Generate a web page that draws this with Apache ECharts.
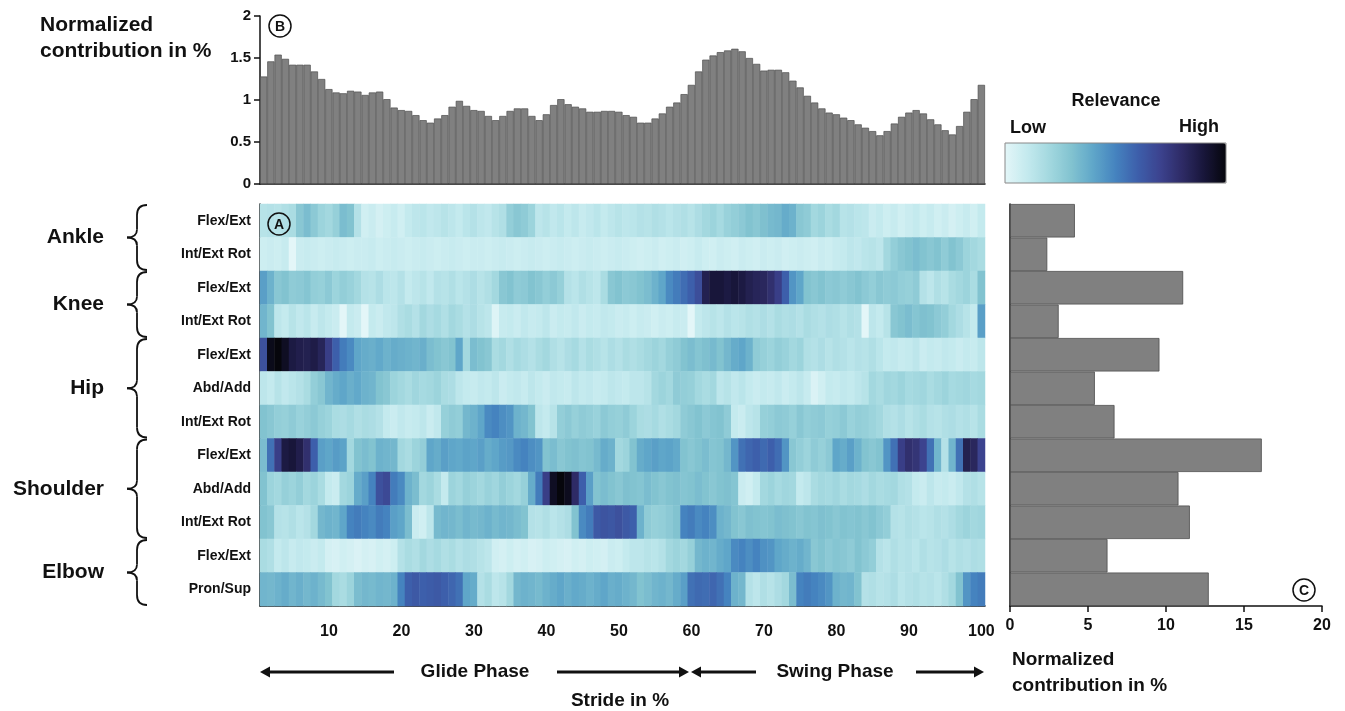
<!DOCTYPE html>
<html><head><meta charset="utf-8">
<script src="https://cdn.jsdelivr.net/npm/echarts@6/dist/echarts.min.js"></script>
<style>html,body{margin:0;padding:0;background:#fff}#c{width:1345px;height:711px}</style>
</head><body><div id="c"></div>
<script>
// ---------------- DATA ----------------
const strideCategories = Array.from({length: 100}, (_, i) => String(i + 1));
const motionLabels = ['Flex/Ext','Int/Ext Rot','Flex/Ext','Int/Ext Rot','Flex/Ext','Abd/Add','Int/Ext Rot','Flex/Ext','Abd/Add','Int/Ext Rot','Flex/Ext','Pron/Sup'];
const jointGroups = ['Ankle','Knee','Hip','Shoulder','Elbow'];
const jointRowCounts = [2, 2, 3, 3, 2];

// Top panel (B): normalized contribution per stride %
const strideContribution = [
 1.28,1.46,1.54,1.49,1.42,1.42,1.42,1.34,1.25,1.13,
 1.09,1.08,1.11,1.10,1.06,1.09,1.10,1.01,0.91,0.88,
 0.87,0.82,0.76,0.73,0.78,0.82,0.92,0.99,0.93,0.88,
 0.87,0.81,0.76,0.81,0.87,0.90,0.90,0.81,0.76,0.83,
 0.94,1.01,0.95,0.92,0.90,0.86,0.86,0.87,0.87,0.86,
 0.82,0.80,0.73,0.73,0.78,0.84,0.92,0.97,1.07,1.18,
 1.34,1.48,1.53,1.57,1.59,1.61,1.58,1.50,1.43,1.35,
 1.36,1.36,1.33,1.23,1.15,1.05,0.97,0.90,0.85,0.83,
 0.79,0.76,0.71,0.67,0.63,0.58,0.63,0.72,0.80,0.85,
 0.88,0.84,0.77,0.71,0.64,0.59,0.69,0.86,1.01,1.18
];

// Right panel (C): normalized contribution per joint motion
const motionContribution = [4.16, 2.39, 11.1, 3.12, 9.58, 5.44, 6.70, 16.14, 10.8, 11.53, 6.25, 12.74];

// Heatmap (A): relevance per row (0 = low, 1 = high)
const ankleFlexExt = [
 0.14,0.15,0.14,0.16,0.18,0.28,0.32,0.27,0.22,0.20,0.24,0.32,0.30,0.15,
 0.06,0.08,0.05,0.07,0.09,0.06,0.10,
 0.12,0.13,0.11,0.12,0.14,0.12,0.10,0.13,0.15,0.12,0.11,0.14,0.16,
 0.25,0.28,0.26,0.22,0.12,0.14,0.11,0.13,
 0.10,0.12,0.09,0.11,0.13,0.10,0.12,0.14,0.12,0.13,
 0.15,0.14,0.16,0.15,0.13,0.15,0.16,0.14,0.17,
 0.20,0.22,0.19,0.23,0.25,0.27,0.30,0.28,0.31,0.33,0.34,0.38,0.36,0.28,0.26,
 0.20,0.22,0.18,0.20,0.14,0.15,0.13,0.12,
 0.08,0.10,0.07,0.09,0.06,0.08,0.10,0.07,0.09,0.06,0.08,0.05,0.07,0.09,0.06,0.10
];
const ankleRot = [
 0.07,0.08,0.07,0.09,0.00,
 0.08,0.09,0.08,0.07,0.08,0.09,0.08,0.07,0.08,0.08,0.09,0.07,0.08,0.09,0.08,0.07,0.08,0.09,0.08,0.07,
 0.08,0.09,0.08,0.07,0.08,0.08,0.07,0.08,0.09,0.08,0.07,0.08,0.09,0.08,0.07,0.08,0.09,0.08,0.07,0.08,
 0.09,0.08,0.07,0.08,0.09,0.08,0.07,
 0.06,0.07,0.08,0.06,0.07,0.08,0.06,0.07,0.09,0.07,0.06,0.08,0.07,0.06,0.08,0.07,0.06,0.08,0.07,0.08,
 0.06,0.07,0.08,0.07,0.06,0.08,0.07,0.09,0.10,0.12,0.11,0.13,0.14,0.12,
 0.20,0.25,0.28,0.30,0.32,0.30,0.28,0.30,0.26,0.30,0.27,0.22,0.20,0.18
];
const kneeFlexExt = [
 0.42,0.36,0.28,0.30,0.26,0.27,0.29,0.25,0.24,0.27,0.22,0.25,0.23,0.20,
 0.15,0.14,0.17,0.13,0.12,0.15,0.10,0.12,0.14,0.11,
 0.15,0.14,0.16,0.13,0.15,0.17,0.14,0.16,0.20,
 0.28,0.30,0.26,0.27,0.30,0.28,0.25,0.27,0.24,
 0.15,0.13,0.16,0.14,0.12,0.18,
 0.28,0.30,0.27,0.28,0.30,0.32,0.36,0.40,
 0.48,0.52,0.56,0.60,0.66,
 0.85,0.90,0.90,0.88,0.90,0.88,0.85,0.83,0.82,0.78,
 0.72,0.60,0.45,0.40,
 0.30,0.28,0.30,0.27,0.28,0.26,0.28,0.30,0.27,0.25,0.28,0.26,0.27,0.25,0.24,0.26,
 0.15,0.12,0.16,0.14,0.18,0.20,0.22,0.18,0.30
];
const kneeRot = [
 0.35,0.30,0.12,0.10,0.14,0.11,0.13,0.09,0.12,0.10,0.08,0.00,0.10,0.08,0.00,
 0.10,0.08,0.11,0.12,
 0.16,0.18,0.15,0.20,0.17,0.19,0.16,0.20,0.18,0.15,0.17,0.14,0.12,0.02,
 0.09,0.10,0.08,0.11,0.09,0.10,0.12,0.08,0.10,0.09,0.11,0.08,0.10,0.09,0.11,0.10,0.08,0.09,0.07,0.09,
 0.08,0.06,0.08,0.07,0.09,0.08,0.00,
 0.10,0.12,0.14,0.12,0.15,0.13,0.14,0.16,0.15,
 0.17,0.15,0.18,0.16,0.17,0.15,0.18,0.16,0.15,0.17,0.16,0.14,0.16,0.15,0.00,
 0.12,0.10,0.14,0.28,0.30,0.32,0.29,0.31,0.30,0.27,0.25,0.20,0.17,0.14,0.10,0.42
];
const hipFlexExt = [
 0.65,0.97,1.00,0.95,0.88,0.86,0.85,0.87,0.83,0.72,0.60,0.52,0.48,
 0.40,0.38,0.37,0.39,0.36,0.38,0.37,0.36,0.35,0.37,
 0.32,0.30,0.28,0.30,0.40,0.20,0.32,0.30,0.28,
 0.18,0.20,0.16,0.19,0.17,0.15,0.18,0.20,0.16,0.14,0.17,0.19,0.15,0.18,0.16,0.14,0.17,0.15,0.18,0.16,
 0.18,0.20,0.22,0.20,0.24,0.26,0.30,0.32,0.29,0.31,0.33,0.30,0.34,0.38,0.40,0.36,
 0.26,0.24,0.22,0.25,0.23,0.20,0.22,
 0.16,0.15,0.17,0.14,0.16,0.15,0.13,0.15,0.14,0.16,0.13,
 0.10,0.11,0.09,0.10,0.12,0.08,0.10,0.09,0.11,0.10,0.08,0.10,0.09,0.12
];
const hipAbdAdd = [
 0.12,0.10,0.14,0.11,0.13,0.15,0.18,0.25,0.28,
 0.35,0.38,0.40,0.37,0.39,0.36,0.35,0.30,0.28,
 0.22,0.20,0.18,0.21,0.19,0.20,0.22,0.18,0.17,
 0.12,0.10,0.09,0.11,0.10,0.12,0.08,0.10,0.11,0.09,0.12,0.10,0.08,0.11,0.10,0.09,0.12,0.10,0.11,0.09,0.10,0.12,0.11,0.10,0.12,
 0.12,0.14,0.20,0.22,0.20,0.26,0.25,0.24,0.20,0.18,0.20,0.12,0.14,0.11,0.13,
 0.10,0.08,0.10,0.09,0.11,0.08,0.10,0.12,0.09,0.03,0.06,0.10,0.09,0.11,0.10,0.12,0.14,
 0.20,0.18,0.21,0.20,0.22,0.19,0.20,0.21,0.18,0.20,0.22,0.19,0.20,0.21,0.19,0.20
];
const hipRot = [
 0.30,0.28,0.25,0.24,0.26,0.23,0.25,0.27,0.24,0.22,
 0.18,0.17,0.19,0.16,0.18,0.17,0.15,
 0.10,0.08,0.11,0.09,0.10,0.12,0.08,0.11,
 0.24,0.26,0.25,0.34,0.36,0.40,0.48,0.50,0.47,0.45,0.36,0.34,0.30,0.12,0.10,0.14,
 0.25,0.27,0.24,0.26,0.25,0.23,0.27,0.25,0.24,0.26,0.22,
 0.18,0.17,0.19,0.16,0.18,0.20,0.26,0.28,0.30,0.27,0.29,0.30,0.26,
 0.10,0.08,0.12,0.14,
 0.24,0.25,0.27,0.26,0.24,0.28,0.25,0.26,0.27,0.24,0.25,0.27,0.23,0.25,0.24,0.22,0.20,
 0.16,0.15,0.17,0.14,0.16,0.18,0.15,0.14,0.16,0.17,0.15,0.16,0.14,0.18
];
const shoulderFlexExt = [
 0.32,0.55,0.72,0.88,0.90,0.86,0.78,0.60,0.42,0.40,0.43,0.41,0.20,
 0.30,0.32,0.30,0.36,0.35,0.34,0.20,0.18,0.22,0.25,
 0.40,0.38,0.42,0.40,0.39,0.41,0.40,0.42,0.38,0.40,0.43,0.44,
 0.48,0.50,0.47,0.45,0.30,0.32,0.28,0.30,0.31,0.29,0.30,0.33,0.38,0.36,0.20,0.22,0.30,
 0.38,0.40,0.42,0.40,0.41,0.39,0.30,0.28,0.30,0.32,0.29,0.30,0.34,
 0.45,0.55,0.58,0.60,0.57,0.60,0.56,0.45,
 0.28,0.25,0.22,0.26,0.24,0.27,0.40,0.38,0.42,0.36,0.30,0.28,0.30,
 0.45,0.55,0.72,0.78,0.76,0.70,0.55,0.35,0.15,0.35,0.55,0.85,0.82,0.70
];
const shoulderAbdAdd = [
 0.30,0.22,0.20,0.24,0.22,0.25,0.20,0.22,0.18,0.10,0.08,0.20,0.22,0.38,0.42,0.50,0.65,0.68,0.52,0.48,
 0.36,0.32,0.20,0.22,0.18,0.10,
 0.22,0.20,0.24,0.22,0.20,0.23,0.21,0.25,0.22,0.20,0.24,
 0.38,0.52,0.72,0.95,1.00,0.96,0.80,0.60,0.42,
 0.30,0.32,0.30,0.28,0.31,0.30,0.29,0.32,0.30,0.28,0.30,0.31,0.29,0.30,0.32,0.30,0.28,0.30,0.31,0.29,
 0.08,0.06,0.10,0.20,0.22,0.19,0.21,0.20,0.10,0.12,
 0.18,0.20,0.19,0.21,0.18,0.20,0.19,0.17,0.20,0.18,0.19,0.20,0.16,0.15,
 0.10,0.08,0.12,0.09,0.10,0.08,0.11,0.15,0.16,0.14
];
const shoulderRot = [
 0.30,0.28,0.15,0.14,0.16,0.13,0.15,0.20,0.34,0.36,0.35,0.40,
 0.50,0.52,0.50,0.48,0.52,0.50,0.42,0.40,0.32,0.08,0.06,0.12,
 0.33,0.35,0.34,0.32,0.35,0.33,0.34,0.36,0.33,0.35,0.34,0.32,0.30,
 0.15,0.14,0.16,0.13,0.15,0.17,0.30,0.48,0.52,
 0.62,0.64,0.63,0.65,0.62,0.60,0.36,
 0.26,0.24,0.25,0.27,0.30,0.50,0.52,0.48,0.50,0.47,0.36,0.34,
 0.30,0.28,0.31,0.30,0.29,0.30,0.32,0.31,0.30,0.28,0.30,0.29,0.31,0.30,0.28,0.30,0.29,0.30,0.28,0.30,0.27,0.25,
 0.15,0.14,0.16,0.15,0.13,0.14,0.16,0.15,0.17,0.20,0.22,0.20,0.21
];
const elbowFlexExt = [
 0.18,0.16,0.10,0.12,0.09,0.11,0.10,0.08,0.10,
 0.05,0.04,0.06,0.05,0.03,0.05,0.04,0.06,0.05,0.07,
 0.15,0.18,0.16,0.20,0.17,0.19,0.16,0.18,0.15,0.17,0.16,0.14,0.12,
 0.06,0.05,0.07,0.05,0.06,0.04,0.05,0.07,0.06,0.05,0.04,0.06,0.05,0.07,0.06,0.05,0.08,0.07,0.10,0.12,
 0.12,0.14,0.13,0.15,0.20,0.22,0.20,0.24,0.34,0.36,0.35,0.38,0.40,
 0.48,0.50,0.47,0.50,0.46,0.45,0.40,0.38,0.36,0.38,0.35,
 0.28,0.30,0.27,0.29,0.28,0.26,0.30,0.27,0.25,
 0.15,0.13,0.16,0.14,0.15,0.13,0.16,0.14,0.15,0.17,0.14,0.16,0.15,0.17,0.16
];
const elbowPronSup = [
 0.35,0.34,0.36,0.38,0.35,0.37,0.34,0.36,0.33,0.30,0.20,0.18,0.22,
 0.32,0.34,0.33,0.35,0.34,0.36,0.50,
 0.60,0.62,0.60,0.61,0.62,0.60,0.58,0.55,0.40,0.38,
 0.15,0.18,0.12,0.14,0.20,0.34,0.36,0.35,0.33,0.36,
 0.38,0.40,0.37,0.39,0.38,0.36,0.38,0.40,0.37,0.38,0.36,0.34,
 0.30,0.32,0.35,0.36,0.34,0.38,0.42,0.55,0.57,0.56,0.58,0.55,0.50,0.36,0.34,
 0.15,0.12,0.16,0.14,0.17,0.20,0.32,0.50,0.52,0.50,0.48,0.45,0.36,0.34,0.35,0.30,
 0.15,0.16,0.14,0.15,0.17,0.13,0.15,0.16,0.14,0.15,0.13,0.16,0.20,
 0.30,0.45,0.50,0.52
];
const heatmapRows = [ankleFlexExt, ankleRot, kneeFlexExt, kneeRot, hipFlexExt, hipAbdAdd, hipRot,
  shoulderFlexExt, shoulderAbdAdd, shoulderRot, elbowFlexExt, elbowPronSup];
const relevanceColors = ['#e3f6f8','#c4eaee','#a3d8df','#82c3d0','#5fa6c9','#4583bf','#3d5fab','#3c438f','#2e2b66','#18163a','#06060c'];

// ---------------- CHART ----------------
const FONT = '"Liberation Sans", Arial, sans-serif';
const NARROW = '"Liberation Sans Narrow", "Liberation Sans", Arial, sans-serif';
const heatData = [];
heatmapRows.forEach((row, r) => row.forEach((v, c) => heatData.push([c, r, v])));

const G = {
  top:   {left: 260, top: 16, width: 725, height: 168},
  heat:  {left: 260, top: 204, width: 725, height: 402},
  right: {left: 1010, top: 204, width: 312, height: 402}
};
const rowH = G.heat.height / 12;
const axisBlack = {lineStyle: {color: '#111', width: 1.5}};
const braceStyle = {fill: 'none', stroke: '#111', lineWidth: 1.8};

// braces + group labels
const braceGraphics = [];
let startRow = 0;
jointGroups.forEach((name, gi) => {
  const y1 = G.heat.top + startRow * rowH + 1;
  const y2 = G.heat.top + (startRow + jointRowCounts[gi]) * rowH - 1;
  const ym = (y1 + y2) / 2;
  const xo = 147, xs = 137, xt = 127;
  braceGraphics.push(
    {type: 'bezierCurve', shape: {x1: xo, y1: y1, cpx1: xs, cpy1: y1, x2: xs, y2: y1 + 10}, style: braceStyle},
    {type: 'line', shape: {x1: xs, y1: y1 + 10, x2: xs, y2: ym - 8}, style: braceStyle},
    {type: 'bezierCurve', shape: {x1: xs, y1: ym - 8, cpx1: xs, cpy1: ym, x2: xt, y2: ym}, style: braceStyle},
    {type: 'bezierCurve', shape: {x1: xt, y1: ym, cpx1: xs, cpy1: ym, x2: xs, y2: ym + 8}, style: braceStyle},
    {type: 'line', shape: {x1: xs, y1: ym + 8, x2: xs, y2: y2 - 10}, style: braceStyle},
    {type: 'bezierCurve', shape: {x1: xs, y1: y2 - 10, cpx1: xs, cpy1: y2, x2: xo, y2: y2}, style: braceStyle},
    {type: 'text', x: 104, y: ym,
      style: {text: name, fontSize: 21, fontWeight: 'bold', fontFamily: FONT, fill: '#111', align: 'right', verticalAlign: 'middle'}}
  );
  startRow += jointRowCounts[gi];
});

function circleLabel(cx, cy, letter, fill) {
  return [
    {type: 'circle', shape: {cx, cy, r: 11}, style: {fill: fill, stroke: '#111', lineWidth: 1.5}, z: 100},
    {type: 'text', x: cx, y: cy + 1, z: 101, style: {text: letter, fontSize: 14, fontWeight: 'bold', fontFamily: FONT, fill: '#111', align: 'center', verticalAlign: 'middle'}}
  ];
}
function arrow(x1, x2, y) {
  const dir = Math.sign(x2 - x1);
  return [
    {type: 'line', shape: {x1, y1: y, x2: x2 - dir * 8, y2: y}, style: {stroke: '#111', lineWidth: 3}},
    {type: 'polygon', shape: {points: [[x2, y], [x2 - dir * 10, y - 5.5], [x2 - dir * 10, y + 5.5]]}, style: {fill: '#111'}}
  ];
}
function txt(x, y, text, size, align, family) {
  return {type: 'text', x, y, style: {text, fontSize: size, fontWeight: 'bold', fontFamily: family || FONT, fill: '#111', align: align || 'left', verticalAlign: 'middle'}};
}

const graphics = [].concat(
  braceGraphics,
  circleLabel(280, 26, 'B', '#fff'),
  circleLabel(279, 224, 'A', 'rgba(0,0,0,0)'),
  circleLabel(1304, 590, 'C', '#fff'),
  [
    txt(40, 25, 'Normalized', 21),
    txt(40, 51, 'contribution in %', 21),
    txt(1116, 101, 'Relevance', 18, 'center'),
    txt(1010, 128, 'Low', 18),
    txt(1219, 127, 'High', 18, 'right'),
    txt(475, 672, 'Glide Phase', 19, 'center', NARROW),
    txt(835, 672, 'Swing Phase', 19, 'center', NARROW),
    txt(620, 701, 'Stride in %', 19, 'center', NARROW),
    txt(1012, 660, 'Normalized', 19, 'left', NARROW),
    txt(1012, 686, 'contribution in %', 19, 'left', NARROW),
    {type: 'rect', shape: {x: 1005, y: 143, width: 221, height: 40}, style: {fill: 'none', stroke: '#888', lineWidth: 1}, z: 100}
  ],
  arrow(394, 260, 672), arrow(557, 689, 672), arrow(756, 691, 672), arrow(916, 984, 672)
);

const chart = echarts.init(document.getElementById('c'));
chart.setOption({
  animation: false,
  backgroundColor: '#fff',
  textStyle: {fontFamily: FONT},
  grid: [G.top, G.heat, G.right],
  xAxis: [
    {gridIndex: 0, type: 'category', data: strideCategories, axisLine: axisBlack, axisTick: {show: false}, axisLabel: {show: false}, splitLine: {show: false}},
    {gridIndex: 1, type: 'category', data: strideCategories, axisLine: axisBlack,
      axisTick: {alignWithLabel: true, interval: (i) => (i + 1) % 10 === 0, length: 6, lineStyle: {color: '#111', width: 1.5}},
      axisLabel: {interval: (i) => (i + 1) % 10 === 0, fontSize: 16, fontWeight: 'bold', fontFamily: NARROW, color: '#111', margin: 18},
      splitLine: {show: false}},
    {gridIndex: 2, type: 'value', min: 0, max: 20, interval: 5, axisLine: {show: true, lineStyle: {color: '#111', width: 1.5}},
      axisTick: {show: true, length: 6, lineStyle: {color: '#111', width: 1.5}},
      axisLabel: {fontSize: 16, fontWeight: 'bold', fontFamily: NARROW, color: '#111', margin: 12},
      splitLine: {show: false}}
  ],
  yAxis: [
    {gridIndex: 0, type: 'value', min: 0, max: 2, interval: 0.5, axisLine: {show: true, lineStyle: {color: '#111', width: 1.5}},
      axisTick: {show: true, length: 6, lineStyle: {color: '#111', width: 1.5}},
      axisLabel: {fontSize: 15, fontWeight: 'bold', color: '#111', margin: 9}, splitLine: {show: false}},
    {gridIndex: 1, type: 'category', data: motionLabels, inverse: true, axisLine: axisBlack,
      axisTick: {alignWithLabel: true, length: 6, lineStyle: {color: '#111', width: 1.5}},
      axisLabel: {fontSize: 14, fontWeight: 'bold', color: '#111', margin: 9}, splitLine: {show: false}},
    {gridIndex: 2, type: 'category', data: motionLabels, inverse: true, axisLine: axisBlack,
      axisTick: {show: false}, axisLabel: {show: false}, splitLine: {show: false}}
  ],
  visualMap: {
    type: 'continuous', min: 0, max: 1, seriesIndex: 1, orient: 'horizontal',
    left: 1005, top: 143, itemWidth: 40, itemHeight: 221, padding: 0,
    calculable: false, hoverLink: false, text: null, showLabel: false,
    inRange: {color: relevanceColors}
  },
  series: [
    {type: 'bar', xAxisIndex: 0, yAxisIndex: 0, data: strideContribution, barCategoryGap: '0%',
      itemStyle: {color: '#808080', borderColor: '#4d4d4d', borderWidth: 0.7}, silent: true},
    {type: 'heatmap', xAxisIndex: 1, yAxisIndex: 1, data: heatData, silent: true, itemStyle: {borderWidth: 0}},
    {type: 'bar', xAxisIndex: 2, yAxisIndex: 2, data: motionContribution, barCategoryGap: '0%',
      itemStyle: {color: '#808080', borderColor: '#4d4d4d', borderWidth: 0.8}, silent: true}
  ],
  graphic: graphics
});
</script>
</body></html>
